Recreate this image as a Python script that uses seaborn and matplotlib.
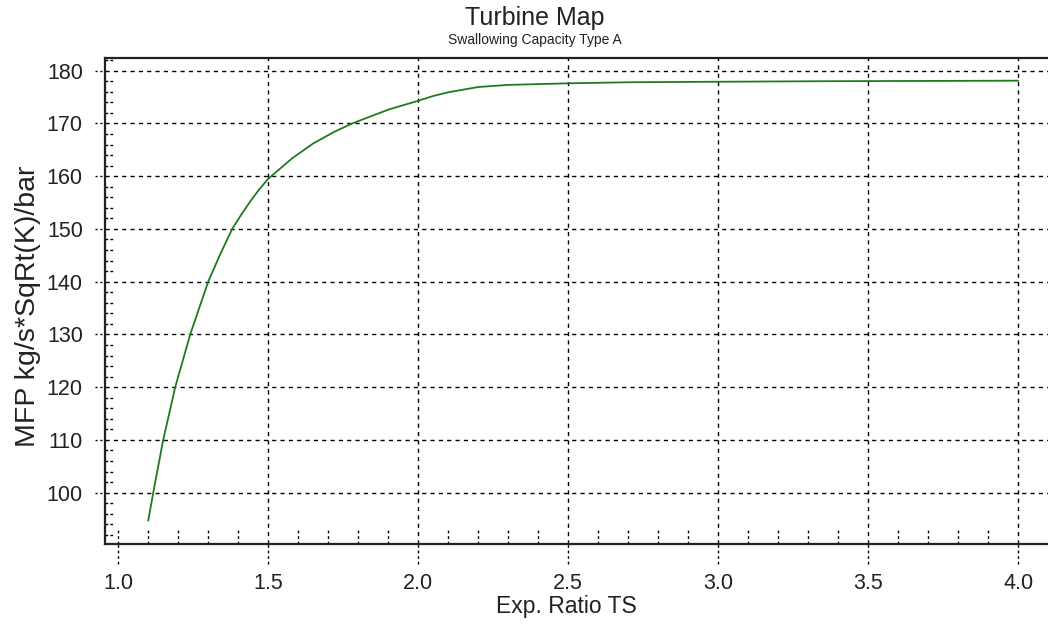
import numpy as np
import pandas as pd
import seaborn as sns
import matplotlib
matplotlib.use("Agg")
import matplotlib.pyplot as plt
from matplotlib.transforms import blended_transform_factory

# Swallowing capacity line: expansion ratio vs. mass flow parameter
exp_ratio = [1.10, 1.12, 1.15, 1.19, 1.24, 1.30, 1.34, 1.38, 1.41, 1.44,
             1.47, 1.50, 1.58, 1.65, 1.72, 1.78, 1.90, 2.00, 2.05, 2.10,
             2.20, 2.30, 2.50, 2.70, 3.00, 3.35, 4.00]
mfp = [94.7, 101.0, 110.0, 120.0, 130.0, 140.0, 145.2, 150.0, 152.7, 155.2,
       157.5, 159.5, 163.4, 166.2, 168.4, 170.0, 172.6, 174.3, 175.2, 175.9,
       176.9, 177.3, 177.6, 177.8, 177.9, 178.0, 178.1]

x_ticks = [1.0, 1.5, 2.0, 2.5, 3.0, 3.5, 4.0]
y_ticks = [100, 110, 120, 130, 140, 150, 160, 170, 180]
x_tick_labels = ["1.0", "1.5", "2.0", "2.5", "3.0", "3.5", "4.0"]
y_tick_labels = ["100", "110", "120", "130", "140", "150", "160", "170", "180"]

title = "Turbine Map"
subtitle = "Swallowing Capacity Type A"
x_label = "Exp. Ratio TS"
y_label = "MFP kg/s*SqRt(K)/bar"

df = pd.DataFrame({"ratio": exp_ratio, "mfp": mfp})

sns.set_theme(style="white")
plt.rcParams["font.family"] = ["Liberation Sans", "DejaVu Sans"]

W, H = 1048, 624
fig = plt.figure(figsize=(W / 100, H / 100), dpi=100)
left, right, top, bottom = 105, 1048, 58, 543.5
ax = fig.add_axes([left / W, 1 - bottom / H, (right - left) / W, (bottom - top) / H])

sns.lineplot(data=df, x="ratio", y="mfp", ax=ax, color="#1f7a1f", lw=1.3)

ax.set_xlim(0.956, 4.099)
ax.set_ylim(90.37, 182.4)

ax.set_xticks(x_ticks)
ax.set_xticklabels(x_tick_labels)
ax.set_yticks(y_ticks)
ax.set_yticklabels(y_tick_labels)
ax.set_xlabel("")
ax.set_ylabel("")

for side in ["left", "bottom", "top"]:
    ax.spines[side].set_visible(True)
    ax.spines[side].set_color("#222222")
    ax.spines[side].set_linewidth(1.6)
ax.spines["right"].set_visible(False)

dash = (0, (3, 3))
ax.grid(True, which="major", color="black", linestyle=dash, linewidth=1.0)
# no vertical gridline at the first x tick
ax.xaxis.get_gridlines()[0].set_visible(False)

ax.tick_params(axis="x", which="major", length=0, pad=21, labelsize=15.5, colors="#222222")
ax.tick_params(axis="y", which="major", direction="in", length=6, width=1.4,
               pad=16, labelsize=15.5, colors="#222222")
ax.tick_params(which="minor", length=0)

bx = blended_transform_factory(ax.transData, ax.transAxes)
by = blended_transform_factory(ax.transAxes, ax.transData)

# dashed tick extensions outside the frame
ax.vlines(x_ticks, -0.042, 0.0, transform=bx, colors="black",
          linestyles=(0, (2, 2)), linewidth=1.0, clip_on=False)
ax.hlines(y_ticks, -0.011, 0.0, transform=by, colors="black",
          linestyles=(0, (1.5, 2)), linewidth=1.0, clip_on=False)

# short dashed minor ticks inside the frame
x_minor = [round(1.0 + 0.1 * i, 1) for i in range(31)]
x_minor = [v for v in x_minor if v not in x_ticks[1:]]
ax.vlines(x_minor, 0.0, 0.027, transform=bx, colors="black",
          linestyles=(0, (2, 2)), linewidth=1.0)
y_minor = [v for v in range(92, 183, 2) if v not in y_ticks]
ax.hlines(y_minor, 0.0, 0.008, transform=by, colors="black",
          linestyles=(0, (2, 1.5)), linewidth=1.0)

fig.text(535 / W, 1 - 18 / H, title, ha="center", va="center", fontsize=18, color="#222222")
fig.text(535 / W, 1 - 40 / H, subtitle, ha="center", va="center", fontsize=10, color="#222222")
fig.text(566 / W, 1 - 606 / H, x_label, ha="center", va="center", fontsize=16.5, color="#222222")
fig.text(28 / W, 1 - 306 / H, y_label, ha="center", va="center", rotation=90,
         fontsize=20.5, color="#222222")

fig.savefig("out.png", dpi=100, facecolor="white")
